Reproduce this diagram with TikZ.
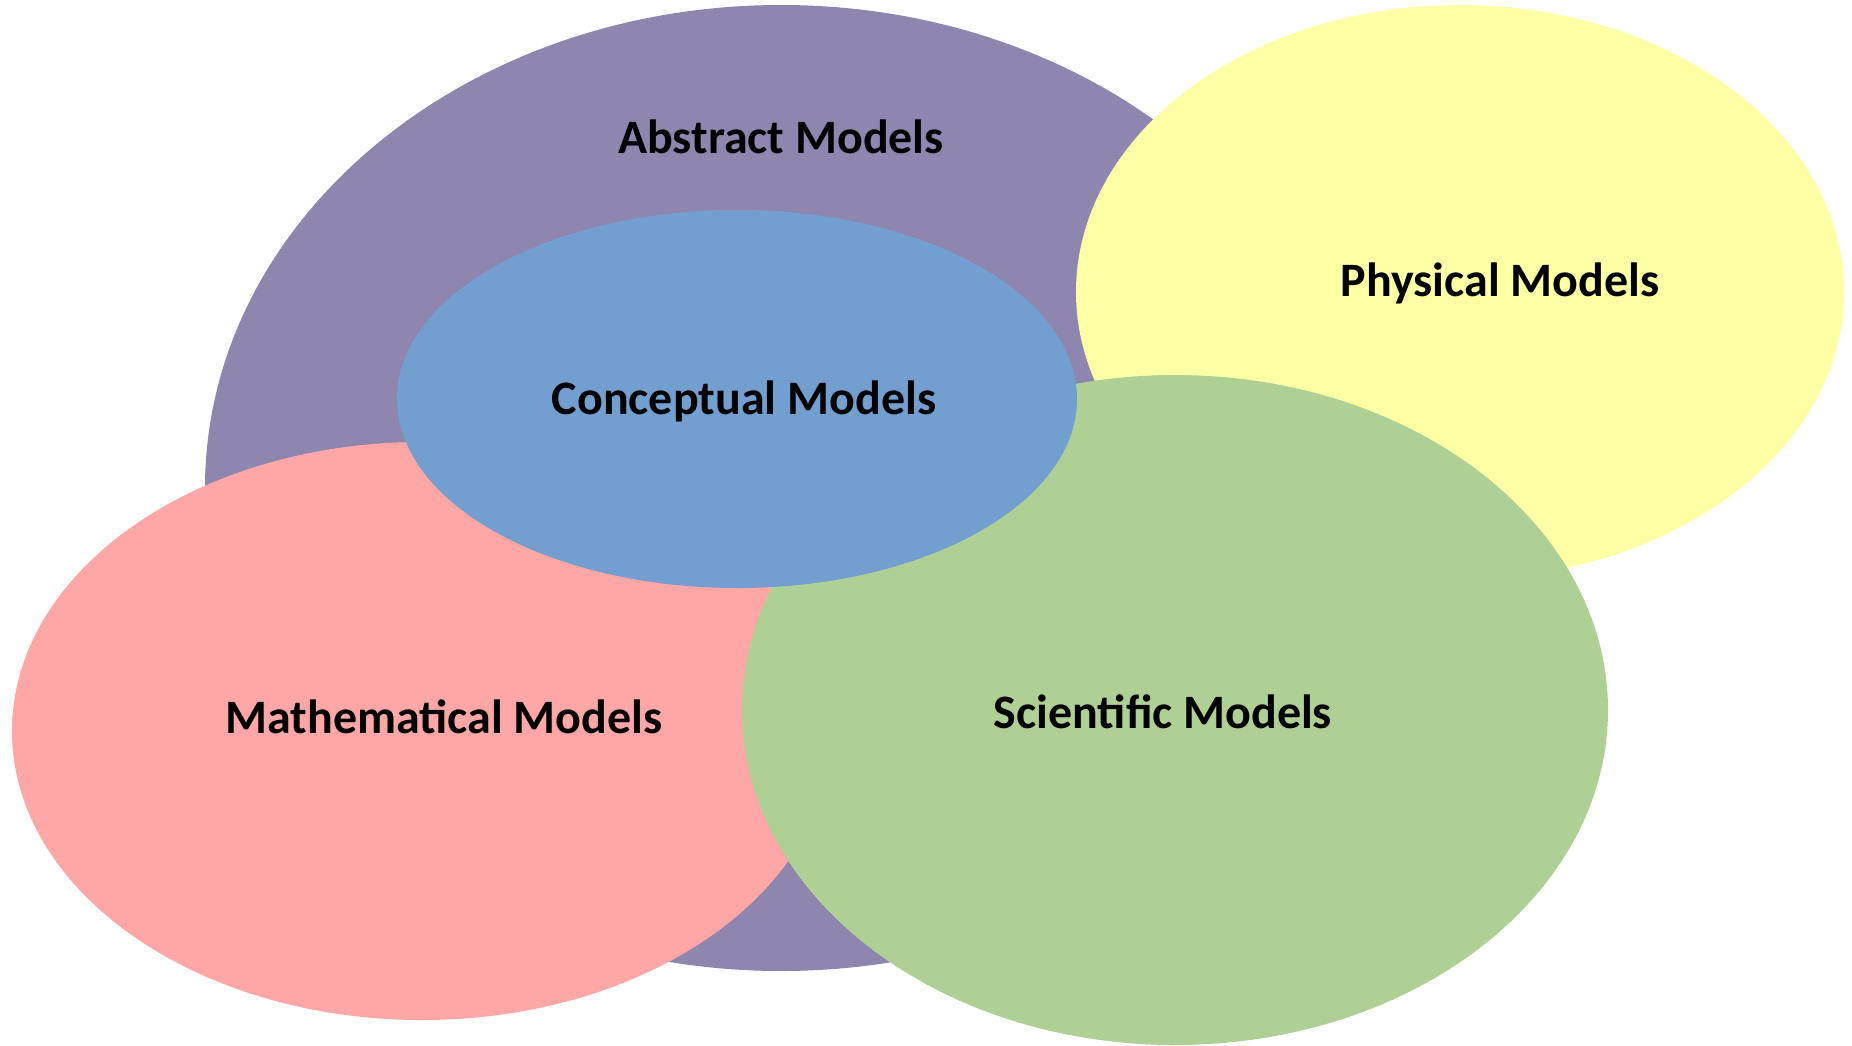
\documentclass[tikz,border=0pt]{standalone}
\usepackage{fontspec}
\setmainfont{Carlito}
\usetikzlibrary{shapes.geometric}
\definecolor{cpurple}{HTML}{8E86AE}
\definecolor{cyellow}{HTML}{FFFFA6}
\definecolor{cpink}{HTML}{FFA6A6}
\definecolor{cgreen}{HTML}{AFD095}
\definecolor{cblue}{HTML}{729FCF}
\tikzset{
  blob/.style={ellipse, draw=none, inner sep=0pt},
  lbl/.style={font=\fontsize{48}{57}\selectfont\bfseries, text=black, inner sep=0pt}
}
\begin{document}
\begin{tikzpicture}[x=1pt,y=-1pt]
\useasboundingbox (0,0) rectangle (1852,1045);
\node[blob, fill=cpurple, minimum width=1152pt, minimum height=966pt] (abs) at (781,488) {};
\node[blob, fill=cyellow, minimum width=768pt, minimum height=574pt] (phy) at (1460,292) {};
\node[blob, fill=cpink, minimum width=820pt, minimum height=578pt] (mat) at (422,731) {};
\node[blob, fill=cgreen, minimum width=866pt, minimum height=670pt] (sci) at (1175,710) {};
\node[blob, fill=cblue, minimum width=680pt, minimum height=378pt] (con) at (737,399) {};
\node[lbl] (tabs) at (781,137) {Abstract Models};
\node[lbl] (tphy) at (1500,283) {Physical Models};
\node[lbl] (tcon) at (744,401) {Conceptual Models};
\node[lbl] (tmat) at (444,717) {Mathematical Models};
\node[lbl] (tsci) at (1163,712) {Scientific Models};
\end{tikzpicture}
\end{document}
